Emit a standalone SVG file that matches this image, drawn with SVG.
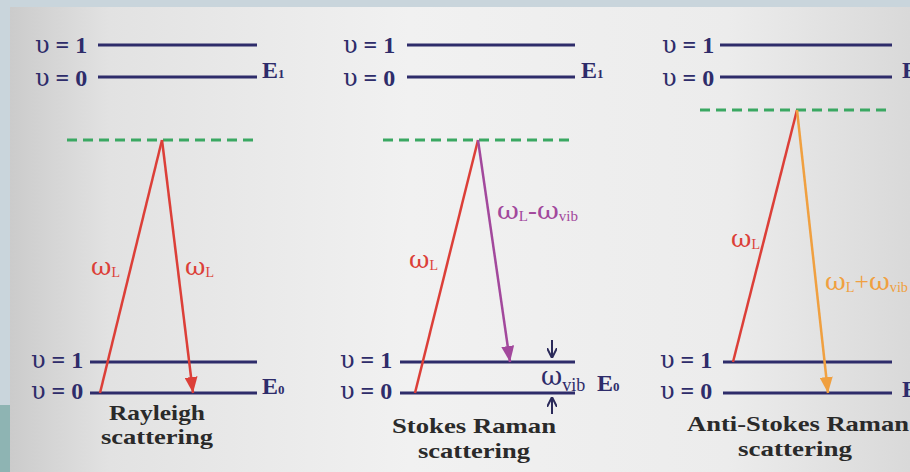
<svg xmlns="http://www.w3.org/2000/svg" width="910" height="472" viewBox="0 0 910 472">
<defs>
<linearGradient id="bg" x1="0" y1="0" x2="1" y2="0">
<stop offset="0" stop-color="#c9c9c9"/>
<stop offset="0.12" stop-color="#e2e2e2"/>
<stop offset="0.45" stop-color="#f1f1f1"/>
<stop offset="0.8" stop-color="#ececec"/>
<stop offset="1" stop-color="#d9d9d9"/>
</linearGradient>
<marker id="ah-red" markerUnits="userSpaceOnUse" markerWidth="16" markerHeight="13" viewBox="0 0 16 13" refX="16" refY="6.5" orient="auto"><path d="M0,0 L16,6.5 L0,13 z" fill="#dc3f38"/></marker>
<marker id="ah-purple" markerUnits="userSpaceOnUse" markerWidth="16" markerHeight="13" viewBox="0 0 16 13" refX="16" refY="6.5" orient="auto"><path d="M0,0 L16,6.5 L0,13 z" fill="#a2489c"/></marker>
<marker id="ah-orange" markerUnits="userSpaceOnUse" markerWidth="16" markerHeight="13" viewBox="0 0 16 13" refX="16" refY="6.5" orient="auto"><path d="M0,0 L16,6.5 L0,13 z" fill="#f0a040"/></marker>
<marker id="ah-dark" markerUnits="userSpaceOnUse" markerWidth="10" markerHeight="10" viewBox="0 0 10 10" refX="10" refY="5" orient="auto"><path d="M0,0 L10,5 L0,10" fill="none" stroke="#2b2a5a" stroke-width="2"/></marker>
</defs>
<style>
.lvl{stroke:#2e2c6a;stroke-width:3;fill:none}
.virt{stroke:#3aa862;stroke-width:3;stroke-dasharray:10 6;fill:none}
.red{stroke:#dc3f38;stroke-width:2.5;fill:none}
.pur{stroke:#a2489c;stroke-width:2.5;fill:none}
.org{stroke:#f0a040;stroke-width:2.5;fill:none}
.v{font-family:"Liberation Serif","DejaVu Serif",serif;font-weight:bold;font-size:24px;fill:#2e2c6a}
.g{font-family:"DejaVu Serif",serif;font-weight:normal}
.E{font-family:"Liberation Serif",serif;font-weight:bold;font-size:24px;fill:#2e2c6a}
.Esub{font-size:13px}
.w{font-family:"Liberation Serif","DejaVu Serif",serif;font-size:25px}
.wsub{font-size:14px}
.title{font-family:"Liberation Serif",serif;font-weight:bold;font-size:22px;fill:#2a2a2a;text-anchor:middle}
</style>
<rect x="0" y="0" width="910" height="472" fill="url(#bg)"/>
<rect x="0" y="0" width="910" height="7" fill="#c9d5dc"/>
<rect x="0" y="0" width="10" height="472" fill="#c9d5dc"/>
<rect x="0" y="405" width="10" height="67" fill="#8eb4b3"/>

<g id="rayleigh">
<text class="v" x="35" y="53"><tspan class="g">υ</tspan> = 1</text>
<text class="v" x="35" y="86"><tspan class="g">υ</tspan> = 0</text>
<line class="lvl" x1="98" y1="45" x2="257" y2="45"/>
<line class="lvl" x1="98" y1="77" x2="257" y2="77"/>
<text class="E" x="262" y="78">E<tspan class="Esub">1</tspan></text>
<line class="virt" x1="67" y1="140" x2="257" y2="140"/>
<text class="v" x="31" y="368"><tspan class="g">υ</tspan> = 1</text>
<text class="v" x="31" y="399"><tspan class="g">υ</tspan> = 0</text>
<line class="lvl" x1="90" y1="362" x2="257" y2="362"/>
<line class="lvl" x1="90" y1="393" x2="257" y2="393"/>
<text class="E" x="262" y="394">E<tspan class="Esub">0</tspan></text>
<text class="w" x="91" y="275" fill="#dc3f38"><tspan class="g">ω</tspan><tspan class="wsub" dy="2">L</tspan></text>
<text class="w" x="185" y="275" fill="#dc3f38"><tspan class="g">ω</tspan><tspan class="wsub" dy="2">L</tspan></text>
<text class="title" x="157" y="420" textLength="96" lengthAdjust="spacingAndGlyphs">Rayleigh</text>
<text class="title" x="157" y="444" textLength="112" lengthAdjust="spacingAndGlyphs">scattering</text>
</g>

<g id="stokes">
<text class="v" x="343" y="53"><tspan class="g">υ</tspan> = 1</text>
<text class="v" x="343" y="86"><tspan class="g">υ</tspan> = 0</text>
<line class="lvl" x1="407" y1="45" x2="575" y2="45"/>
<line class="lvl" x1="407" y1="77" x2="575" y2="77"/>
<text class="E" x="581" y="78">E<tspan class="Esub">1</tspan></text>
<line class="virt" x1="383" y1="140" x2="575" y2="140"/>
<text class="v" x="340" y="368"><tspan class="g">υ</tspan> = 1</text>
<text class="v" x="340" y="399"><tspan class="g">υ</tspan> = 0</text>
<line class="lvl" x1="400" y1="362" x2="575" y2="362"/>
<line class="lvl" x1="400" y1="393" x2="575" y2="393"/>
<text class="w" x="409" y="268" fill="#dc3f38"><tspan class="g">ω</tspan><tspan class="wsub" dy="2">L</tspan></text>
<text class="w" x="497" y="219" fill="#a2489c" textLength="81" lengthAdjust="spacingAndGlyphs"><tspan class="g">ω</tspan><tspan class="wsub" dy="2">L</tspan><tspan dy="-2">-</tspan><tspan class="g">ω</tspan><tspan class="wsub" dy="2">vib</tspan></text>
<text x="541" y="385" font-family="DejaVu Serif,serif" font-size="26" fill="#2e2c6a">ω<tspan font-family="Liberation Serif,serif" font-size="18" dy="6">vib</tspan></text>
<text class="E" x="597" y="391">E<tspan class="Esub">0</tspan></text>
<text class="title" x="474" y="433" textLength="164" lengthAdjust="spacingAndGlyphs">Stokes Raman</text>
<text class="title" x="474" y="458" textLength="112" lengthAdjust="spacingAndGlyphs">scattering</text>
</g>

<g id="antistokes">
<text class="v" x="662" y="53"><tspan class="g">υ</tspan> = 1</text>
<text class="v" x="662" y="86"><tspan class="g">υ</tspan> = 0</text>
<line class="lvl" x1="720" y1="45" x2="892" y2="45"/>
<line class="lvl" x1="720" y1="77" x2="892" y2="77"/>
<text class="E" x="902" y="78">E<tspan class="Esub">1</tspan></text>
<line class="virt" x1="700" y1="110" x2="892" y2="110"/>
<text class="v" x="660" y="368"><tspan class="g">υ</tspan> = 1</text>
<text class="v" x="660" y="399"><tspan class="g">υ</tspan> = 0</text>
<line class="lvl" x1="723" y1="362" x2="892" y2="362"/>
<line class="lvl" x1="723" y1="393" x2="892" y2="393"/>
<text class="E" x="902" y="397">E<tspan class="Esub">0</tspan></text>
<text class="w" x="731" y="247" fill="#dc3f38"><tspan class="g">ω</tspan><tspan class="wsub" dy="2">L</tspan></text>
<text class="w" x="825" y="290" fill="#f0a040" textLength="83" lengthAdjust="spacingAndGlyphs"><tspan class="g">ω</tspan><tspan class="wsub" dy="2">L</tspan><tspan dy="-2">+</tspan><tspan class="g">ω</tspan><tspan class="wsub" dy="2">vib</tspan></text>
<text class="title" x="798" y="431" textLength="222" lengthAdjust="spacingAndGlyphs">Anti-Stokes Raman</text>
<text class="title" x="795" y="456" textLength="114" lengthAdjust="spacingAndGlyphs">scattering</text>
</g>

<g id="connectors">
<line class="red" x1="100" y1="393" x2="162" y2="140"/>
<line class="red" x1="162" y1="140" x2="193" y2="393" marker-end="url(#ah-red)"/>
<line class="red" x1="415" y1="393" x2="478" y2="140"/>
<line class="pur" x1="478" y1="140" x2="510" y2="362" marker-end="url(#ah-purple)"/>
<line x1="552" y1="340" x2="552" y2="358" stroke="#2b2a5a" stroke-width="2" marker-end="url(#ah-dark)"/>
<line x1="552" y1="414" x2="552" y2="397" stroke="#2b2a5a" stroke-width="2" marker-end="url(#ah-dark)"/>
<line class="red" x1="733" y1="362" x2="797" y2="110"/>
<line class="org" x1="797" y1="110" x2="828" y2="393" marker-end="url(#ah-orange)"/>
</g>
</svg>
